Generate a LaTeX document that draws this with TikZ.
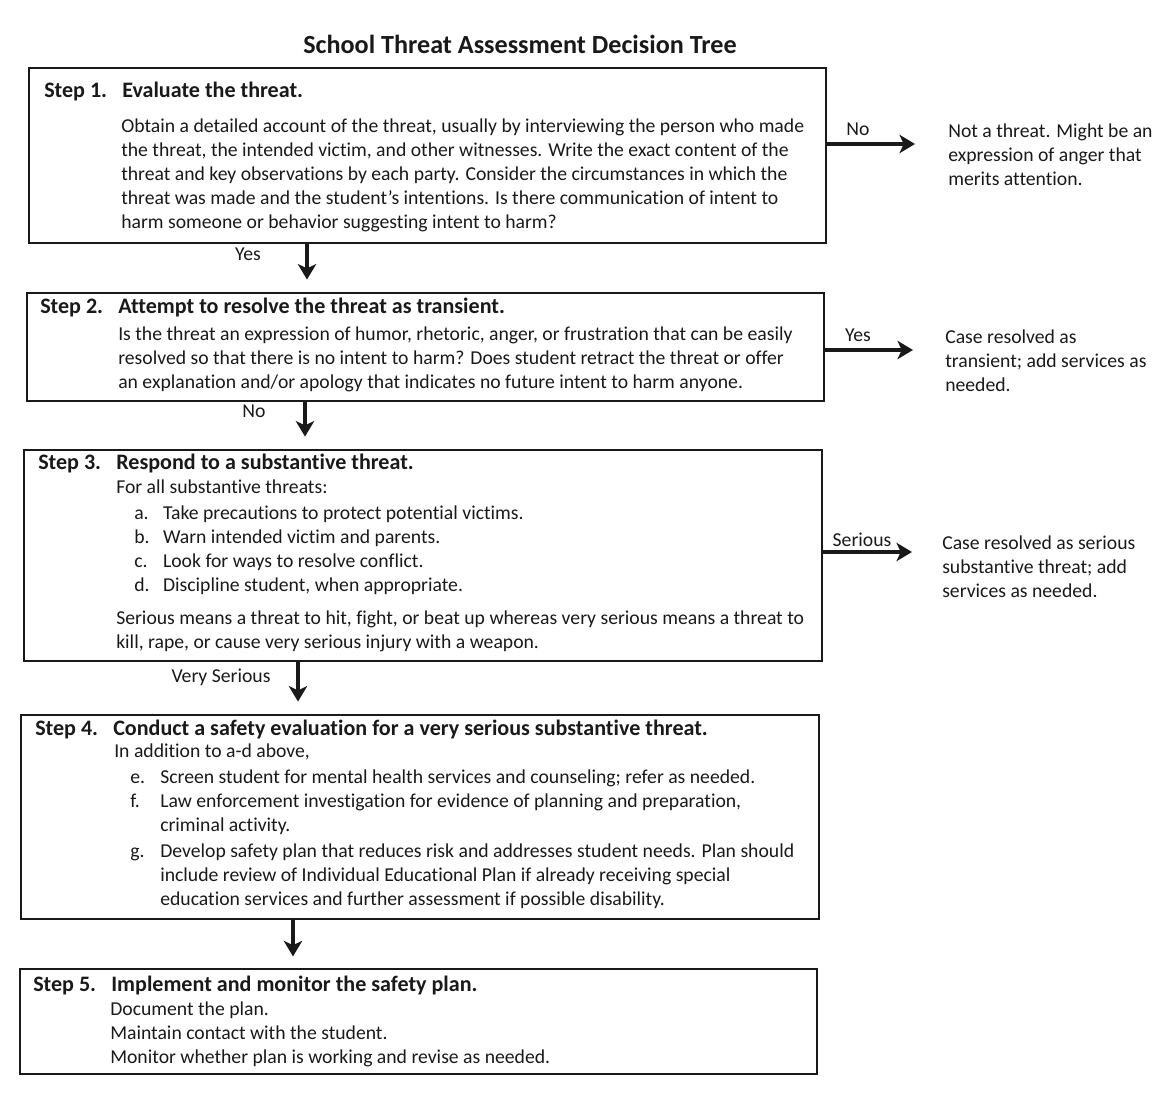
\documentclass[tikz,border=0pt]{standalone}
\usepackage{fontspec}
\setmainfont{Carlito}[Ligatures=NoCommon]
\usetikzlibrary{arrows.meta,fit}

\newcommand{\bodyfont}{\fontsize{14}{17.1}\selectfont}
\newcommand{\headfont}{\fontsize{15.7}{17.1}\selectfont\bfseries}
\newcommand{\stephead}[2]{\makebox[1.95cm][l]{Step #1.}#2}
\newcommand{\lines}[1]{\begin{tabular}[t]{@{}l@{}}#1\end{tabular}}

\tikzset{
    box/.style={draw=black!90, line width=2pt, inner sep=0pt},
    txt/.style={anchor=base west, inner sep=0pt, font=\bodyfont, text=black!90},
    head/.style={txt, font=\headfont},
    lbl/.style={anchor=base, inner sep=0pt, font=\bodyfont, text=black!90},
    arr/.style={draw=black!90, line width=2.4pt, -{Stealth[length=11pt,width=13pt,inset=3pt]}}
}

\begin{document}
\begin{tikzpicture}[x=0.025cm, y=-0.025cm]
    \useasboundingbox (0,0) rectangle (1159,1093);
    \node[anchor=base, inner sep=0pt, font=\fontsize{18.6}{21}\selectfont\bfseries, text=black!90] (title) at (520,53) {School Threat Assessment Decision Tree};

    % boxes
    \node[box, fit={(29,68) (826,243)}] (s1) {};
    \node[box, fit={(27,293) (824,401)}] (s2) {};
    \node[box, fit={(24,450) (822,661)}] (s3) {};
    \node[box, fit={(21,715) (819,919)}] (s4) {};
    \node[box, fit={(20,969) (817,1074)}] (s5) {};

    % step 1
    \node[head] (h1) at (44,97) {\stephead{1}{Evaluate the threat.}};
    \node[txt] (b1) at (121,132) {\lines{Obtain a detailed account of the threat, usually by interviewing the person who made\\
        the threat, the intended victim, and other witnesses. Write the exact content of the\\
        threat and key observations by each party. Consider the circumstances in which the\\
        threat was made and the student’s intentions. Is there communication of intent to\\
        harm someone or behavior suggesting intent to harm?}};

    % step 2
    \node[head] (h2) at (40,313) {\stephead{2}{Attempt to resolve the threat as transient.}};
    \node[txt] (b2) at (118,340) {\lines{Is the threat an expression of humor, rhetoric, anger, or frustration that can be easily\\
        resolved so that there is no intent to harm? Does student retract the threat or offer\\
        an explanation and/or apology that indicates no future intent to harm anyone.}};

    % step 3
    \node[head] (h3) at (38,469) {\stephead{3}{Respond to a substantive threat.}};
    \node[txt] (b3) at (116,493) {For all substantive threats:};
    \node[txt] (l3) at (134,519) {\begin{tabular}[t]{@{}p{0.72cm}@{}l@{}}
        a. & Take precautions to protect potential victims.\\
        b. & Warn intended victim and parents.\\
        c. & Look for ways to resolve conflict.\\
        d. & Discipline student, when appropriate.
    \end{tabular}};
    \node[txt] (c3) at (116,624) {\lines{Serious means a threat to hit, fight, or beat up whereas very serious means a threat to\\
        kill, rape, or cause very serious injury with a weapon.}};

    % step 4
    \node[head] (h4) at (35,735) {\stephead{4}{Conduct a safety evaluation for a very serious substantive threat.}};
    \node[txt] (b4) at (114,757) {In addition to a-d above,};
    \node[txt] (l4) at (130,783) {\begin{tabular}[t]{@{}p{0.75cm}@{}l@{}}
        e. & Screen student for mental health services and counseling; refer as needed.\\
        f. & Law enforcement investigation for evidence of planning and preparation,\\
           & criminal activity.\\[1.5pt]
        g. & Develop safety plan that reduces risk and addresses student needs. Plan should\\
           & include review of Individual Educational Plan if already receiving special\\
           & education services and further assessment if possible disability.
    \end{tabular}};

    % step 5
    \node[head] (h5) at (33,991) {\stephead{5}{Implement and monitor the safety plan.}};
    \node[txt] (b5) at (110,1015) {\lines{Document the plan.\\
        Maintain contact with the student.\\
        Monitor whether plan is working and revise as needed.}};

    % outcomes
    \node[txt] (r1) at (948,137) {\lines{Not a threat. Might be an\\expression of anger that\\merits attention.}};
    \node[txt] (r2) at (945,343) {\lines{Case resolved as\\transient; add services as\\needed.}};
    \node[txt] (r3) at (942,549) {\lines{Case resolved as serious\\substantive threat; add\\services as needed.}};

    % connectors
    \coordinate (d1) at (307,0);
    \coordinate (d2) at (305,0);
    \coordinate (d3) at (298,0);
    \coordinate (d4) at (293,0);
    \coordinate (e1) at (915,144);
    \coordinate (e2) at (913,350);
    \coordinate (e3) at (912,552);
    \draw[arr, shorten >=0.3cm] (s1.south -| d1) -- (s2.north -| d1);
    \draw[arr, shorten >=0.3cm] (s2.south -| d2) -- (s3.north -| d2);
    \draw[arr, shorten >=0.3cm] (s3.south -| d3) -- (s4.north -| d3);
    \draw[arr, shorten >=0.28cm] (s4.south -| d4) -- (s5.north -| d4);
    \draw[arr] (s1.east |- e1) -- (e1);
    \draw[arr] (s2.east |- e2) -- (e2);
    \draw[arr] (s3.east |- e3) -- (e3);

    % labels
    \node[lbl] (yes1) at (248,260) {Yes};
    \node[lbl] (no2) at (254,417) {No};
    \node[lbl] (vs3) at (221,682) {Very Serious};
    \node[lbl] (no1) at (858,135) {No};
    \node[lbl] (yes2) at (858,341) {Yes};
    \node[lbl] (ser3) at (862,546) {Serious};
\end{tikzpicture}
\end{document}
